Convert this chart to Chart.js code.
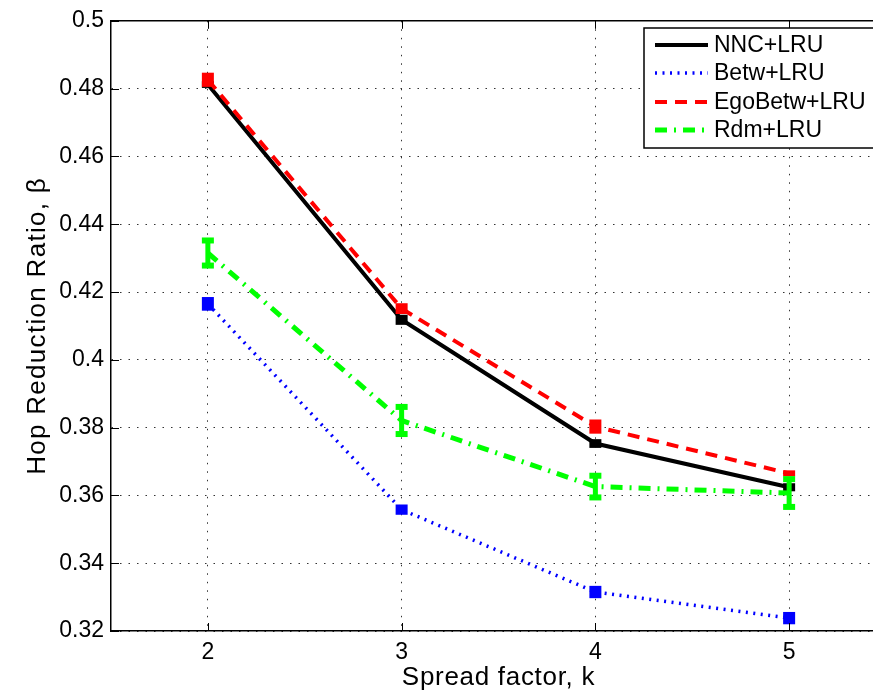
<!DOCTYPE html>
<html><head><meta charset="utf-8">
<script src="https://cdn.jsdelivr.net/npm/chart.js@4/dist/chart.umd.min.js"></script>
<style>html,body{margin:0;padding:0;overflow:hidden;background:#fff}#wrap{width:890px;height:693px}</style>
</head><body><div id="wrap"><canvas id="c" width="890" height="693"></canvas></div>
<script>
const spreadFactors = [2, 3, 4, 5];
const nncLru  = [0.4812, 0.4118, 0.3753, 0.3624];
const nncErr  = [0.0004, 0.0009, 0.0007, 0.0006];
const betwLru = [0.4165, 0.3558, 0.3315, 0.3238];
const betwErr = [0.0015, 0.0010, 0.0013, 0.0013];
const egoLru  = [0.4826, 0.4151, 0.3803, 0.3665];
const egoErr  = [0.0015, 0.0010, 0.0015, 0.0003];
const rdmLru  = [0.4315, 0.3821, 0.3626, 0.3607];
const rdmErr  = [0.0037, 0.0040, 0.0032, 0.0041];
const seriesLabels = ['NNC+LRU', 'Betw+LRU', 'EgoBetw+LRU', 'Rdm+LRU'];
const xTickValues = [2, 3, 4, 5];
const yTickValues = [0.32, 0.34, 0.36, 0.38, 0.40, 0.42, 0.44, 0.46, 0.48, 0.50];
const xTitle = 'Spread factor, k';
const yTitle = 'Hop Reduction Ratio, β';

const FONT = '"Liberation Sans", Arial, Helvetica, sans-serif';
const pts = arr => spreadFactors.map((x, i) => ({x: x, y: arr[i]}));

function ds(label, values, err, color, width, dash, order) {
  return {label, data: pts(values), err, borderColor: color, backgroundColor: color,
    borderWidth: width, borderDash: dash, pointRadius: 0, tension: 0, order,
    borderCapStyle: 'butt', fill: false};
}

const errorBars = {
  id: 'errorBars',
  afterDatasetDraw(chart, args) {
    const d = chart.data.datasets[args.index];
    const ctx = chart.ctx, y = chart.scales.y, x = chart.scales.x;
    ctx.save();
    ctx.strokeStyle = d.borderColor; ctx.fillStyle = d.borderColor;
    ctx.lineWidth = d.borderWidth; ctx.setLineDash([]);
    ctx.lineCap = 'butt';
    const hw = 6;
    d.data.forEach((p, i) => {
      const px = x.getPixelForValue(p.x);
      const y1 = y.getPixelForValue(p.y + d.err[i]);
      const y2 = y.getPixelForValue(p.y - d.err[i]);
      const lw = d.borderWidth;
      if (y2 - y1 < 14) {
        ctx.fillRect(px - hw, y1 - lw / 2, 2 * hw, (y2 - y1) + lw);
      } else {
        ctx.fillRect(px - lw / 2, y1, lw, y2 - y1);
        ctx.fillRect(px - hw, y1 - lw / 2 - 0.5, 2 * hw, lw + 1);
        ctx.fillRect(px - hw, y2 - lw / 2 - 0.5, 2 * hw, lw + 1);
      }
    });
    ctx.restore();
  }
};

const frame = {
  id: 'frame',
  afterDraw(chart) {
    const ctx = chart.ctx, a = chart.chartArea, xs = chart.scales.x, ys = chart.scales.y;
    ctx.save();
    ctx.strokeStyle = '#000'; ctx.lineWidth = 1.5; ctx.setLineDash([]);
    ctx.beginPath(); ctx.moveTo(a.left, a.top); ctx.lineTo(chart.width, a.top); ctx.stroke();
    ctx.lineWidth = 1;
    ctx.beginPath();
    xTickValues.forEach(v => {
      const px = Math.round(xs.getPixelForValue(v)) + 0.5;
      ctx.moveTo(px, a.bottom); ctx.lineTo(px, a.bottom - 8);
      ctx.moveTo(px, a.top); ctx.lineTo(px, a.top + 8);
    });
    yTickValues.forEach(v => {
      const py = Math.round(ys.getPixelForValue(v)) + 0.5;
      ctx.moveTo(a.left, py); ctx.lineTo(a.left + 8, py);
    });
    ctx.stroke();
    // axis titles
    ctx.fillStyle = '#000';
    ctx.font = '26px ' + FONT;
    ctx.letterSpacing = '0.7px';
    ctx.textAlign = 'center'; ctx.textBaseline = 'alphabetic';
    ctx.fillText(xTitle, (a.left + a.right) / 2, 685);
    ctx.save();
    ctx.translate(45, (a.top + a.bottom) / 2);
    ctx.rotate(-Math.PI / 2);
    ctx.letterSpacing = '1.3px';
    ctx.fillText(yTitle, 0, 0);
    ctx.restore();
    ctx.letterSpacing = '0px';
    // legend
    const L = 644, T = 28, B = 148;
    ctx.fillStyle = '#fff';
    ctx.fillRect(L, T, chart.width - L + 5, B - T);
    ctx.lineWidth = 1.5; ctx.strokeStyle = '#000';
    ctx.strokeRect(L, T, chart.width - L + 20, B - T);
    const rows = [45, 73, 102, 130];
    ctx.font = '23px ' + FONT; ctx.textBaseline = 'middle'; ctx.textAlign = 'left';
    chart.data.datasets.forEach((d, r) => {
      ctx.save();
      ctx.strokeStyle = d.borderColor; ctx.lineWidth = d.borderWidth;
      ctx.setLineDash(d.borderDash || []); ctx.lineCap = 'butt';
      ctx.beginPath(); ctx.moveTo(655, rows[r]); ctx.lineTo(708, rows[r]); ctx.stroke();
      ctx.restore();
      ctx.fillStyle = '#000';
      ctx.fillText(d.label, 714, rows[r] + 1);
    });
    ctx.restore();
  }
};

const gridDash = [1.5, 7];
new Chart(document.getElementById('c'), {
  type: 'line',
  data: {
    datasets: [
      ds(seriesLabels[0], nncLru, nncErr, '#000000', 4, [], 4),
      ds(seriesLabels[1], betwLru, betwErr, '#0000ff', 3.5, [2, 5.5], 3),
      ds(seriesLabels[2], egoLru, egoErr, '#ff0000', 4, [12, 8], 2),
      ds(seriesLabels[3], rdmLru, rdmErr, '#00ff00', 5, [12, 7, 2, 7], 1)
    ]
  },
  options: {
    responsive: false, animation: false, devicePixelRatio: 1,
    layout: {padding: {top: 19, right: 4, left: 0, bottom: 0}},
    plugins: {legend: {display: false}, tooltip: {enabled: false}},
    scales: {
      x: {
        type: 'linear', min: 1.5, max: 5.5,
        afterBuildTicks: s => { s.ticks = xTickValues.map(v => ({value: v})); },
        afterFit: s => { s.height = 62; },
        grid: {color: '#333', lineWidth: 1, drawTicks: false},
        border: {display: true, color: '#000', width: 1.5, dash: gridDash},
        ticks: {color: '#000', font: {family: FONT, size: 23}, padding: 8, maxRotation: 0,
          callback: v => String(v)},
        title: {display: false}
      },
      y: {
        type: 'linear', min: 0.32, max: 0.5,
        afterBuildTicks: s => { s.ticks = yTickValues.map(v => ({value: v})); },
        afterFit: s => { s.width = 111; },
        grid: {color: '#333', lineWidth: 1, drawTicks: false},
        border: {display: true, color: '#000', width: 1.5, dash: gridDash},
        ticks: {color: '#000', font: {family: FONT, size: 23}, padding: 7,
          callback: v => String(parseFloat(Number(v).toFixed(2)))},
        title: {display: false}
      }
    }
  },
  plugins: [errorBars, frame]
});
</script></body></html>
